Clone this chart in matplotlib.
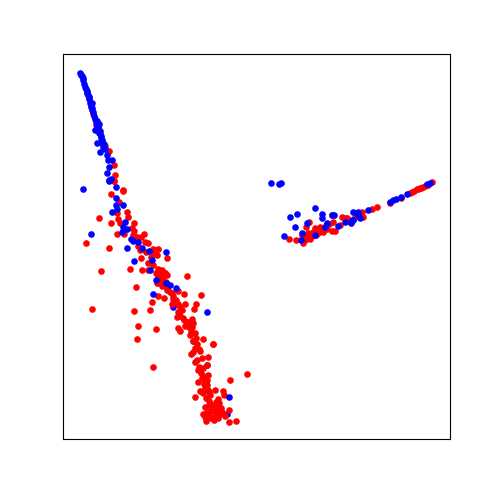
#!/usr/bin/env python

import matplotlib
matplotlib.use('Agg')
import matplotlib.pyplot as plt

# values, y axis runs downwards
blue_low_x = [206.7, 226.7, 191, 173.3]
blue_low_y = [365.3, 414, 327.3, 306.7]

red_x = [87, 89, 93.3, 96, 100, 105, 109, 114.3, 115.3, 114, 114, 123, 123.3, 110.7, 119, 116.7, 126.7, 99,
         128.3, 118.3, 110.7, 120, 134.3, 131.7, 134, 117.3, 124, 144, 133.3, 136.7, 140.7, 85.7, 145, 148.3,
         138.3, 109.3, 158.3, 153.3, 140, 146, 154, 157.3, 151, 140.7, 166.7, 148.3, 153.3, 130, 141.7, 148.3,
         101.3, 158.3, 156, 165, 160, 166.7, 161.7, 158.3, 163.3, 136.3, 166.7,
         165, 187.3, 160, 157.3, 161.7, 167.3, 178.3, 171.7, 183.7, 200.7, 157.7, 164, 173.3, 175, 152.3, 184.7,
         195.7, 180, 194.3, 92, 150.3, 134.3, 178.3, 180, 176.7, 183.3, 192.3, 186.7, 193.3, 191.7, 138, 156,
         178.3, 179.7, 190.7, 195, 196, 203, 136.7, 192.7, 196.7, 213, 195, 199.3,
         193.3, 213.3, 200, 191, 208.3, 201.7, 197.3, 206.7, 199.3, 152.7, 203.3, 200.7, 246.7, 208.3, 203.3,
         205, 230, 198.3, 206.7, 207.7, 215, 199.7, 222.7, 210, 224.3, 194.7, 218.3, 209.3, 216, 209, 217.3,
         221, 229.3, 210, 217.3, 206.7, 203.3, 208.3, 220, 225, 217.3, 212.7, 205, 206, 236, 229.3,
         # dense parts of the band
         160, 163, 158, 162, 166, 170, 173, 176, 172, 178, 182, 179, 184, 188, 185, 190, 189, 193, 195, 198,
         202, 204, 200, 205, 207, 203, 209, 206, 210, 212, 207, 205, 213, 219, 215, 222, 211, 214, 218,
         331.7, 309, 305.7, 333.3, 341.7, 347.3, 355, 315, 320, 335, 332.3, 323.3, 318.3, 301.7, 311.7, 306.7,
         289, 296.3, 305, 310, 302.7, 361.7, 362.7, 371.7, 376.7, 390, 410, 414, 416.7, 420, 423.3, 432.3,
         400.7, 327, 312, 340, 303, 305, 308, 313, 316, 322, 326, 329, 345, 350, 412, 418, 421, 425, 428]
red_y = [93, 97, 114, 125, 133, 146, 151, 165, 175, 181.3, 181.3, 190, 190.7, 194, 201.7, 213.3, 211.7, 218,
         217.3, 219.3, 222.7, 223.3, 223.3, 228.3, 230.7, 234.3, 234.3, 234.3, 235, 236.7, 237.3, 243, 242.3, 243.3,
         245.7, 247.7, 249, 249, 250, 252.3, 253.3, 255.3, 256.7, 258.3, 258.3, 263.3, 265, 268.7, 270.3, 270,
         271.3, 269.3, 273.3, 272.7, 275, 275, 278.3, 283.3, 285, 287, 288,
         273.3, 276, 278.3, 283.3, 286, 290, 290.7, 293.3, 294, 294.7, 296, 298, 299.3, 301.7, 302.3, 304,
         304.3, 307.3, 309.3, 309.3, 310, 311.3, 311.7, 316, 316.7, 317.7, 319.3, 321.7, 323.3, 326.7, 326, 329.3,
         328, 331, 331, 333.3, 337.7, 338.7, 339.3, 340.7, 344, 344.3, 348.3, 349.3,
         340.7, 344.3, 350.7, 353.7, 357.3, 358.3, 360, 365, 366.7, 367.3, 368.3, 372.7, 374, 375, 376,
         380, 379.7, 382.3, 385, 390, 390, 391.3, 391.3, 395, 395.3, 396.7, 399.3, 400.7, 401.7, 405, 405.7,
         408.3, 410.3, 410.7, 410.7, 411.7, 414, 414, 414, 416, 415.3, 417.3, 417.3, 421, 420.7, 422.3,
         272, 280, 276, 270, 282, 292, 296, 300, 304, 304, 310, 314, 320, 322, 326, 335, 327, 352, 362, 370,
         378, 384, 371, 388, 380, 393, 392, 398, 404, 408, 415, 407, 406, 403, 412, 412, 418, 420, 418,
         215, 222, 226.7, 222.3, 216.7, 218.3, 216.7, 228.3, 227.3, 230.7, 231, 231.7, 233.3, 235, 235, 236.7,
         239, 240, 240, 239.3, 242.7, 211.7, 216.7, 209.3, 207, 203.3, 192.7, 190.7, 189.3, 188, 186.7, 182,
         198, 229, 236, 225, 238, 236, 233, 232, 235, 229, 225, 224, 218, 222, 192, 189, 187.5, 186, 185]

blue_x = [80, 80.8, 81.7, 82.5, 83.3, 84, 85, 86, 86.7, 87.3, 88.3, 89.3, 90, 92.3, 90.7, 91.7, 95, 99.3, 95, 98.3,
          97, 99.3, 100.7, 97.3, 102.3, 103, 100, 106.7, 108, 111.7, 109, 107, 110.7, 109,
          89, 91, 92, 93, 94, 96, 97, 98, 100, 101, 102, 104, 105,
          109.3, 115.7, 82.7, 115.7, 115.7, 122.7, 117.3, 111.7, 125, 122.7, 126.7, 121.7, 91.3, 131, 133.3,
          138.3, 126.7, 141.7, 149.3, 165.7, 151.7, 134, 150, 156, 165.7, 170, 176,
          153.3, 207, 229,
          270.7, 279, 280.7, 315, 297, 289.7, 321.7, 322.3, 331.7, 334, 306.7, 295, 326.7, 325, 338.3, 345,
          351.7, 353.3, 357.7, 358, 284.3, 301.7, 300.7, 315,
          352.7, 360, 350.7, 368.3, 390, 392.7, 395.7, 400.7, 406.7, 427.3, 430]
blue_y = [72.7, 74.5, 76, 78, 80, 84, 86.5, 89, 91, 93, 95, 97, 102.7, 102.7, 106.7, 110, 119, 124, 130, 128,
          126, 133, 138, 143, 142.7, 147, 151.7, 155, 160, 160, 166.7, 173, 178.7, 180.7,
          99, 105, 108, 112, 116, 122, 121, 127, 131, 136, 140, 144, 149,
          180, 187.3, 189.3, 198.3, 205, 205, 209.3, 212.3, 221.7, 226.7, 229.3, 231.7, 234, 239.3, 241,
          242, 248.3, 247.7, 250.7, 252.3, 260, 261.3, 270, 280, 283.3, 285, 287.7,
          294, 312, 397.3,
          182.7, 184.3, 182.7, 207.7, 214, 217.3, 214.3, 218.3, 215, 215, 223.3, 226.7, 223.3, 226.7, 226, 221.7,
          220, 211.7, 211.7, 215, 235.7, 233.3, 240, 235,
          220, 218.3, 223, 210, 202.3, 200, 199, 197.3, 194.3, 184.3, 183.3]


def main():
    fig = plt.figure(figsize=(5, 5), dpi=100)
    ax = fig.add_axes([0.126, 0.122, 0.774, 0.77])
    ax.scatter(blue_low_x, blue_low_y, c='blue', s=14)
    ax.scatter(red_x, red_y, c='red', s=14)
    ax.scatter(blue_x, blue_y, c='blue', s=14)
    ax.set_xlim(63, 450)
    ax.set_ylim(439, 54)
    ax.set_xticks([])
    ax.set_yticks([])
    fig.savefig('out.png', dpi=100)
    return


if __name__ == '__main__':
    main()
